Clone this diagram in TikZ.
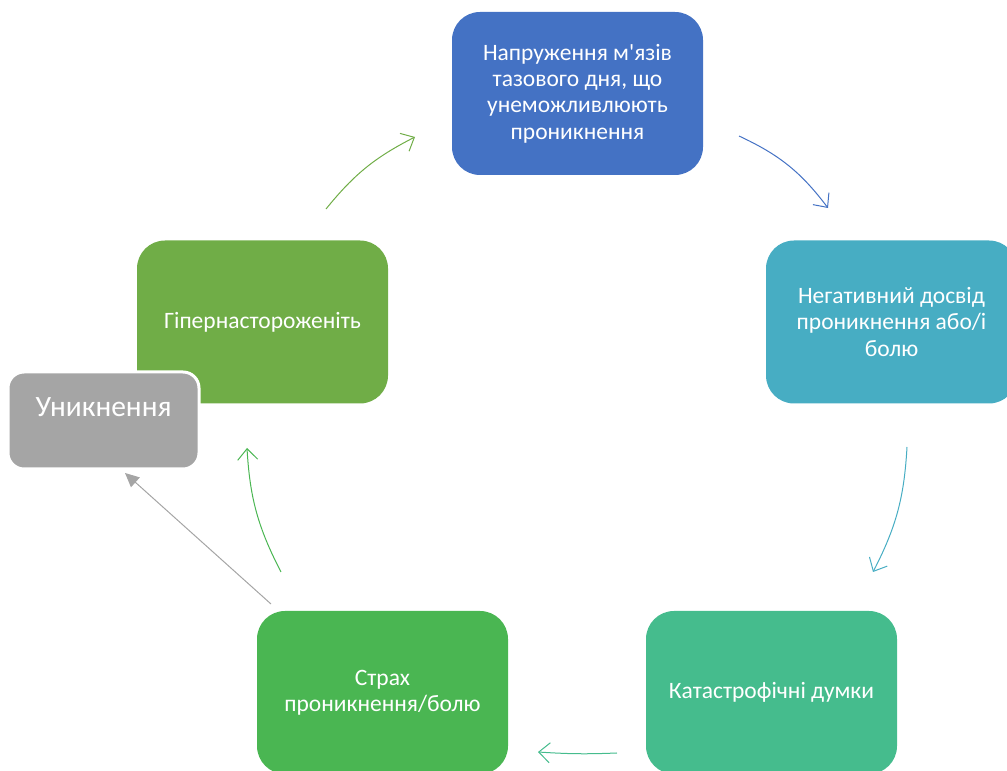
\documentclass[tikz,border=0pt]{standalone}
\usepackage{fontspec}
\setmainfont{Carlito}
\usetikzlibrary{arrows.meta}

\definecolor{cycblue}{HTML}{4472C4}
\definecolor{cycteal}{HTML}{47ADC3}
\definecolor{cycsea}{HTML}{45BC8D}
\definecolor{cycgreen}{HTML}{4AB652}
\definecolor{cycolive}{HTML}{70AD47}
\definecolor{cycgray}{HTML}{A5A5A5}

\begin{document}
\begin{tikzpicture}[x=1pt,y=1pt,
    box/.style={rounded corners=28pt, minimum width=251pt, minimum height=163pt,
      align=center, text=white, font=\fontsize{23.5}{26.3}\selectfont},
    cyc/.style={line width=1pt, -{Straight Barb[length=11pt,width=20pt]}}]

    \useasboundingbox (0,0) rectangle (1007,771);

    % boxes of the cycle
    \node[box, fill=cycblue] (tension) at (577.5,677.5) {Напруження м\textquotesingle язів\\тазового дня, що\\унеможливлюють\\проникнення};
    \node[box, fill=cycteal] (negative) at (891.5,449) {Негативний досвід\\проникнення або/і\\болю};
    \node[box, fill=cycsea] (catast) at (771.5,78.5) {Катастрофічні думки};
    \node[box, fill=cycgreen] (fear) at (382.5,78.5) {Страх\\проникнення/болю};
    \node[box, fill=cycolive] (hyper) at (262.5,449) {Гіпернастороженіть};

    % side box, drawn over the green one
    \node[box, fill=cycgray, draw=white, line width=3pt, rounded corners=16pt,
      minimum width=191pt, minimum height=97pt, text height=22pt, text depth=30pt,
      font=\fontsize{29.5}{32}\selectfont] (avoid) at (103.5,350.5) {Уникнення};

    % ends of the arrows
    \coordinate (a1s) at (739,635);  \coordinate (a1e) at (828,563);
    \coordinate (a2s) at (907,324);  \coordinate (a2e) at (873,199);
    \coordinate (a3s) at (617,18);   \coordinate (a3e) at (538,19);
    \coordinate (a4s) at (281,199);  \coordinate (a4e) at (247,323);
    \coordinate (a5s) at (326,562);  \coordinate (a5e) at (415,634);
    \coordinate (a6s) at (271,167);  \coordinate (a6e) at (125,298);

    % arrows round the cycle
    \draw[cyc, cycblue] (a1s) to[bend left=14] (a1e);
    \draw[cyc, cycteal] (a2s) to[bend left=12] (a2e);
    \draw[cyc, cycsea] (a3s) to[bend left=3] (a3e);
    \draw[cyc, cycgreen] (a4s) to[bend left=12] (a4e);
    \draw[cyc, cycolive] (a5s) to[bend left=12] (a5e);

    % way out to avoidance
    \draw[line width=1pt, cycgray, -{Triangle[length=14pt,width=13pt]}] (a6s) -- (a6e);
\end{tikzpicture}
\end{document}
